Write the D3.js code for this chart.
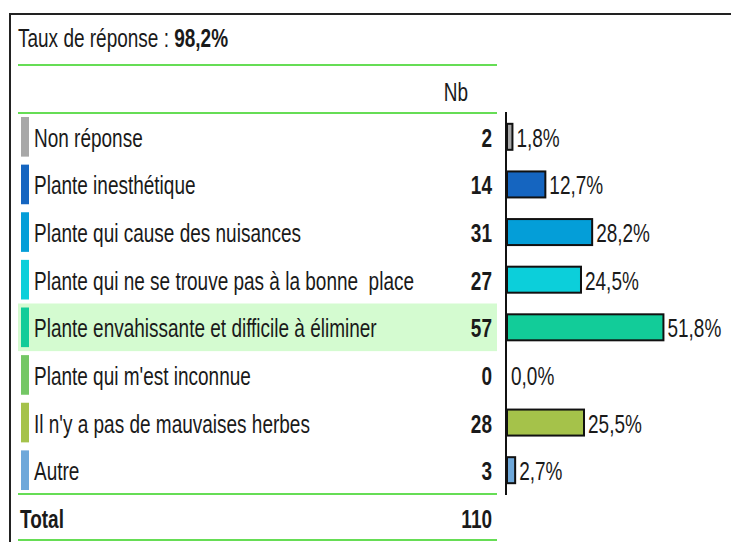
<!DOCTYPE html>
<html>
<head>
<meta charset="utf-8">
<script src="https://cdn.jsdelivr.net/npm/d3@7"></script>
<style>
  body { margin: 0; background: #fff; }
  text { font-family: "Liberation Sans", Arial, sans-serif; fill: #1a1a1a; white-space: pre; }
</style>
</head>
<body>
<div id="body"></div>
<script>
var categories = ["Non réponse", "Plante inesthétique", "Plante qui cause des nuisances",
  "Plante qui ne se trouve pas à la bonne  place", "Plante envahissante et difficile à éliminer",
  "Plante qui m'est inconnue", "Il n'y a pas de mauvaises herbes", "Autre"];
var counts = [2, 14, 31, 27, 57, 0, 28, 3];
var percents = [1.8, 12.7, 28.2, 24.5, 51.8, 0.0, 25.5, 2.7];
var colors = ["#a8a8a8", "#1565c0", "#049ed8", "#0ccfda", "#12cc99", "#74c765", "#a5c24a", "#6ea8da"];
var highlighted = 4;
var total = 110;
var responseRate = "98,2%";

var width = 731, height = 542;
var fontSize = "25px";
var narrow = 0.76; // horizontally condensed text like the original

var svg = d3.select("#body")
  .append("svg")
  .attr("width", width)
  .attr("height", height);

// outer frame
svg.append("rect")
  .attr("x", 10).attr("y", 14)
  .attr("width", width).attr("height", height)
  .attr("fill", "none")
  .attr("stroke", "#222")
  .attr("stroke-width", 2);

var tableLeft = 18, tableRight = 497, countX = 492;

var y = d3.scaleBand()
  .domain(categories)
  .range([113, 494])
  .paddingInner(0)
  .paddingOuter(0);

var x = d3.scaleLinear()
  .domain([0, 100])
  .range([507, 507 + 302]);

function label(sel, tx, ty) {
  return sel.attr("transform", "translate(" + tx + "," + ty + ") scale(" + narrow + ",1)")
    .style("font-size", fontSize);
}

// title
var title = label(svg.append("text"), tableLeft, 47);
title.append("tspan").text("Taux de réponse : ");
title.append("tspan").style("font-weight", "bold").text(responseRate);

// header
label(svg.append("text"), 456, 101)
  .attr("text-anchor", "middle")
  .text("Nb");

// highlighted row
svg.append("rect")
  .attr("x", tableLeft)
  .attr("y", y(categories[highlighted]))
  .attr("width", tableRight - tableLeft)
  .attr("height", y.bandwidth())
  .attr("fill", "#d4fbd0");

// green separators
[65, 113, 494, 540].forEach(function(ly) {
  svg.append("line")
    .attr("x1", tableLeft).attr("x2", tableRight)
    .attr("y1", ly).attr("y2", ly)
    .attr("stroke", "#66dd55")
    .attr("stroke-width", 2);
});

var rows = svg.selectAll("g.row")
  .data(categories)
  .enter().append("g")
  .attr("class", "row");

rows.append("rect")
  .attr("x", 21)
  .attr("y", function(d) { return y(d) + 4; })
  .attr("width", 8)
  .attr("height", y.bandwidth() - 8)
  .attr("fill", function(d, i) { return colors[i]; });

rows.each(function(d, i) {
  var g = d3.select(this);
  var cy = y(d) + y.bandwidth() / 2;
  label(g.append("text"), 34, cy + 10).text(d);
  label(g.append("text"), countX, cy + 10)
    .attr("text-anchor", "end")
    .style("font-weight", "bold")
    .text(counts[i]);
});

// bars
rows.filter(function(d, i) { return percents[i] > 0; })
  .append("rect")
  .attr("x", x(0))
  .attr("y", function(d) { return y(d) + y.bandwidth() / 2 - 13; })
  .attr("width", function(d) { return x(percents[categories.indexOf(d)]) - x(0); })
  .attr("height", 26)
  .attr("fill", function(d) { return colors[categories.indexOf(d)]; })
  .attr("stroke", "#111")
  .attr("stroke-width", 2);

rows.each(function(d, i) {
  var cy = y(d) + y.bandwidth() / 2;
  label(d3.select(this).append("text"), x(percents[i]) + 4, cy + 10)
    .text(percents[i].toFixed(1).replace(".", ",") + "%");
});

// axis line
svg.append("line")
  .attr("x1", 506).attr("x2", 506)
  .attr("y1", 112).attr("y2", 495)
  .attr("stroke", "#111")
  .attr("stroke-width", 2);

// total row
var totalY = (494 + 540) / 2 + 11;
label(svg.append("text"), tableLeft + 2, totalY)
  .style("font-weight", "bold").text("Total");
label(svg.append("text"), countX, totalY)
  .attr("text-anchor", "end")
  .style("font-weight", "bold").text(total);
</script>
</body>
</html>
